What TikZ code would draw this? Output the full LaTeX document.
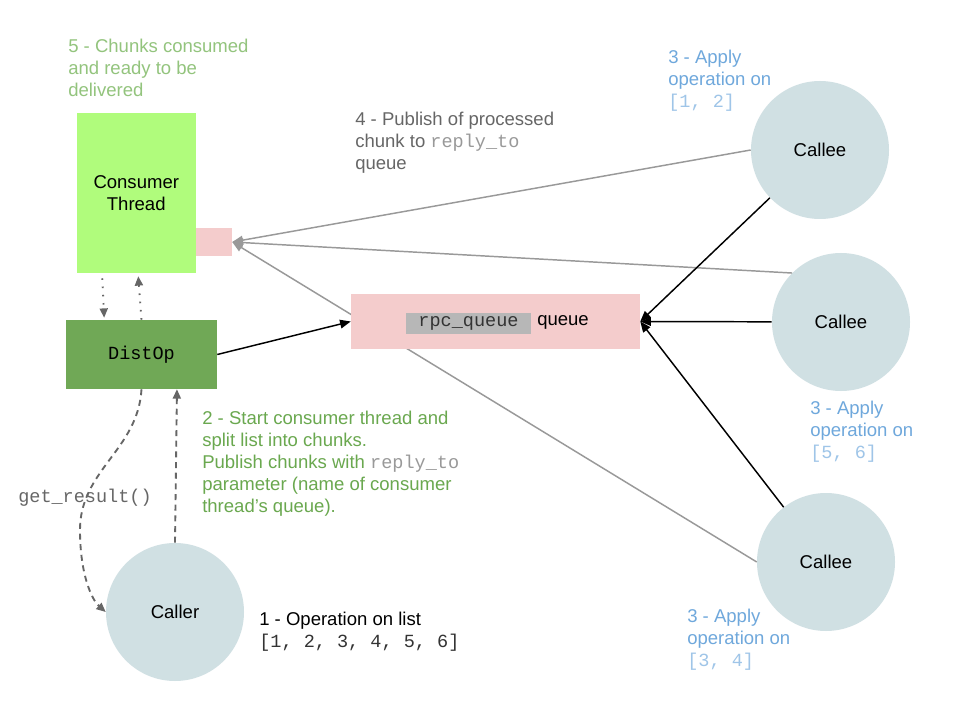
\documentclass[tikz,border=0pt]{standalone}
\usepackage{fontspec}
\setmainfont{Liberation Sans}
\setmonofont{Liberation Mono}
\usetikzlibrary{arrows.meta}
\definecolor{callfill}{RGB}{208,224,227}
\definecolor{threadgreen}{RGB}{176,252,124}
\definecolor{distgreen}{RGB}{112,168,86}
\definecolor{queuepink}{RGB}{244,204,204}
\definecolor{namegray}{RGB}{183,183,183}
\definecolor{stepblue}{RGB}{111,168,220}
\definecolor{stepblueli}{RGB}{159,197,232}
\definecolor{stepgreen}{RGB}{106,168,79}
\definecolor{steplime}{RGB}{147,196,125}
\definecolor{stepgray}{RGB}{102,102,102}
\definecolor{linegray}{RGB}{153,153,153}
\definecolor{codegray}{RGB}{51,51,51}

\begin{document}
\begin{tikzpicture}[x=0.75pt, y=-0.75pt,
    every node/.style={font=\fontsize{13.9}{16.5}\selectfont},
    box/.style={rectangle, inner sep=0pt},
    proc/.style={circle, fill=callfill, minimum size=103.5pt, inner sep=0pt},
    note/.style={anchor=north west, align=left, inner sep=0pt},
    call/.style={-{Triangle[length=8pt,width=6.5pt]}, line width=1.1pt, black},
    reply/.style={-{Triangle[length=8pt,width=6.5pt]}, line width=1.1pt, linegray},
    local/.style={-{Triangle[length=7pt,width=6pt]}, line width=1.4pt, stepgray, dash pattern=on 4.5pt off 3.5pt},
    signal/.style={-{Triangle[length=7pt,width=6pt]}, line width=1.4pt, stepgray, dash pattern=on 1.2pt off 5pt}]
    \fill[white] (0,0) rectangle (960,720);
    \useasboundingbox (0,0) rectangle (960,720);

    % Consumer thread and its reply queue
    \node[box, fill=threadgreen, minimum width=89.6pt, minimum height=120pt, align=center] (consumer) at (136.25,193) {Consumer\\Thread};
    \node[box, fill=queuepink, minimum width=27pt, minimum height=21pt] (replyq) at (214,242) {};

    % Callees
    \node[proc] (callee1) at (820,150) {Callee};
    \node[proc] (callee2) at (841,322) {Callee};
    \node[proc] (callee3) at (826,562) {Callee};

    % Replies back to the consumer thread
    \draw[reply] (callee1.west) -- (replyq.east);
    \draw[reply] (callee2.135) -- (replyq.east);
    \draw[reply] (callee3.west) -- (replyq.east);

    % RPC queue
    \node[box, fill=queuepink, minimum width=216.75pt, minimum height=41.25pt] (rpcq) at (495.5,321.5) {};
    \node[box, fill=namegray, minimum width=93.75pt, minimum height=15.75pt] (rpcname) at (468.5,323.5) {\textcolor{codegray}{\texttt{rpc\_queue}}};
    \node[anchor=west, inner sep=0pt] (rpcword) at (537,322) {queue};

    % DistOp and caller
    \node[box, fill=distgreen, minimum width=113.25pt, minimum height=51.75pt] (distop) at (141.5,354.5) {\texttt{DistOp}};
    \node[proc] (caller) at (175,612) {Caller};

    % Calls into the queue
    \draw[call] (distop.east) -- (rpcq.west);
    \draw[call] (callee1) -- (rpcq.east);
    \draw[call] (callee2) -- (rpcq.east);
    \draw[call] (callee3) -- (rpcq.east);

    % Thread start / results
    \draw[signal] ([xshift=-25.5pt,yshift=-3.75pt]consumer.south) -- ([xshift=-28pt,yshift=1.5pt]distop.north);
    \draw[signal] (distop.north) -- ([xshift=1.5pt,yshift=-2.25pt]consumer.south);

    % Caller and DistOp
    \draw[local] (caller.north) -- ([xshift=26.6pt]distop.south);
    \draw[local] (distop.south) .. controls (138,450) and (80,470) .. (80,530)
        .. controls (80,575) and (92,600) .. (caller.west);
    \node[anchor=west, inner sep=0pt, text=stepgray] (getres) at (18,498) {\texttt{get\_result()}};

    % Step notes
    \node[note, text=steplime] (note5) at (68,39) {5 - Chunks consumed\\and ready to be\\delivered};
    \node[note, text=stepgray] (note4) at (355,112) {4 - Publish of processed\\chunk to \textcolor{linegray}{\texttt{reply\_to}}\\queue};
    \node[note, text=stepgreen] (note2) at (202,411) {2 - Start consumer thread and\\split list into chunks.\\Publish chunks with \textcolor{linegray}{\texttt{reply\_to}}\\parameter (name of consumer\\thread's queue).};
    \node[note] (note1) at (259,612) {1 - Operation on list\\\textcolor{codegray}{\texttt{[1, 2, 3, 4, 5, 6]}}};
    \node[note, text=stepblue] (note3a) at (668,50) {3 - Apply\\operation on\\\textcolor{stepblueli}{\texttt{[1, 2]}}};
    \node[note, text=stepblue] (note3b) at (810,400.5) {3 - Apply\\operation on\\\textcolor{stepblueli}{\texttt{[5, 6]}}};
    \node[note, text=stepblue] (note3c) at (687,609) {3 - Apply\\operation on\\\textcolor{stepblueli}{\texttt{[3, 4]}}};
\end{tikzpicture}
\end{document}
